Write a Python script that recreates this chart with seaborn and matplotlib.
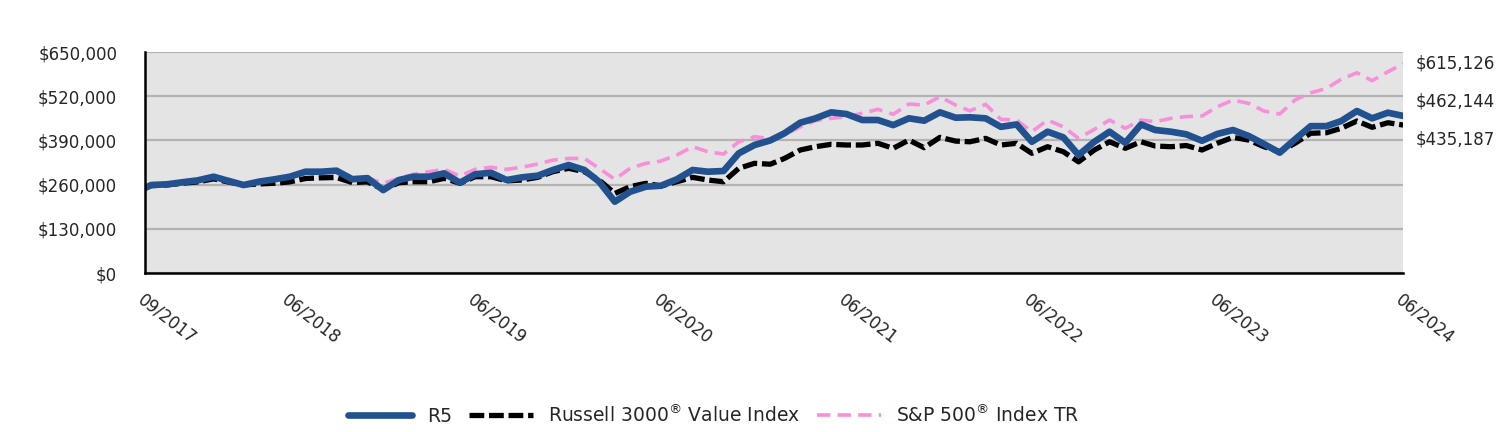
import matplotlib
matplotlib.use('Agg')
from matplotlib import pyplot as plt
import matplotlib.dates as mdates
import pandas as pd
import seaborn as sns

# first point is the start of the fund, then month ends
start = pd.to_datetime(['2017-09-18'])
month_ends = pd.date_range('2017-09-30', '2024-06-30', freq=pd.offsets.MonthEnd())
dates = start.append(month_ends)

r5 = [250000,
      258800, 260900, 266800, 272600, 283300, 271500, 258800, 268600, 275600, 283300,
      298000, 298000, 301000, 276000, 279000, 244000, 273500, 283300, 283300, 293200,
      265600, 290300, 295000, 273500, 281400, 286200, 303000, 317600, 303000, 268600,
      209800, 239000, 253900, 256800, 275600, 303000, 298000, 300000, 352000, 376500,
      390000, 411000, 442000, 455000, 472600, 467600, 450000, 450000, 435000, 455000,
      448000, 472600, 456800, 458000, 455000, 430000, 437000, 386000, 415600, 399000,
      347000, 386000, 415600, 383000, 437000, 420600, 415600, 408000, 389000, 409000,
      420600, 403000, 379400, 354000, 393000, 432000, 432000, 447000, 476500, 455000,
      471500, 462144]

russell = [250000,
           257000, 259000, 264000, 268000, 277000, 268000, 259000, 262000, 264000, 268000,
           278000, 280000, 281000, 266000, 268000, 246000, 265600, 268500, 268500, 278500,
           263800, 283300, 283300, 271000, 273500, 281400, 298000, 308000, 298000, 273500,
           234000, 253900, 263800, 256000, 268500, 281400, 273500, 268500, 308000, 322600,
           320000, 337000, 361800, 371500, 378500, 376500, 376500, 381500, 366800, 391000,
           368500, 399000, 388000, 386000, 396000, 376500, 381500, 352000, 371500, 356800,
           327000, 361800, 386000, 366800, 386000, 373500, 371500, 375000, 361800, 381500,
           399000, 391000, 371500, 356800, 381500, 411000, 412600, 425600, 447000, 428500,
           442000, 435187]

sp500 = [250000,
         258000, 261000, 267000, 273000, 286000, 276000, 262000, 268000, 275000, 283000,
         296000, 296000, 299000, 277000, 280000, 264000, 278500, 290000, 298000, 305000,
         285000, 305000, 311000, 305000, 311000, 320600, 332000, 337000, 337000, 308000,
         275600, 308000, 322600, 329400, 347000, 371500, 356800, 350000, 386000, 401000,
         395000, 406000, 430000, 448000, 455000, 459700, 469700, 481500, 466800, 497000,
         494000, 518500, 494000, 477000, 496000, 452000, 450000, 415600, 450000, 430000,
         396000, 422600, 450000, 425600, 450000, 445000, 455000, 460000, 461800, 489000,
         508800, 499000, 476500, 467600, 508800, 530000, 543000, 569700, 589000, 565600,
         592000, 615126]

tick_dates = pd.to_datetime(['2017-09-18', '2018-06-30', '2019-06-30', '2020-06-30',
                             '2021-06-30', '2022-06-30', '2023-06-30', '2024-06-30'])
y_ticks = [0, 130000, 260000, 390000, 520000, 650000]

df = pd.DataFrame({'date': dates, 'R5': r5, 'Russell': russell, 'SP500': sp500})

sns.set_style('white')
plt.rcParams['font.family'] = ['DejaVu Sans']

fig, ax = plt.subplots(figsize=(15.12, 4.32), dpi=100)
fig.subplots_adjust(left=0.0959, right=0.928, top=0.8796, bottom=0.368)
ax.set_facecolor('#e4e4e4')

sns.lineplot(data=df, x='date', y='SP500', color='#f78fd9', linewidth=2.6,
             linestyle=(0, (3.7, 2.0)), label='S&P 500$^{\u00ae}$ Index TR', ax=ax)
sns.lineplot(data=df, x='date', y='Russell', color='black', linewidth=3.8,
             linestyle=(0, (2.8, 0.9)), label='Russell 3000$^{\u00ae}$ Value Index', ax=ax)
sns.lineplot(data=df, x='date', y='R5', color='#22518f', linewidth=4.8,
             label='R5', ax=ax)

ax.set_xlim(dates[0], dates[-1])
ax.set_ylim(0, 650000)
ax.set_yticks(y_ticks)
ax.set_yticklabels([f'${v:,.0f}' for v in y_ticks], fontsize=12)
ax.set_xticks(tick_dates)
ax.xaxis.set_major_formatter(mdates.DateFormatter('%m/%Y'))
plt.setp(ax.get_xticklabels(), rotation=-38, ha='left', va='top',
         rotation_mode='anchor', fontsize=12)
ax.tick_params(axis='x', length=7, width=1.5, color='black', pad=6)
ax.tick_params(axis='y', length=0, pad=20)
ax.set_xlabel('')
ax.set_ylabel('')

ax.yaxis.grid(True, color='#b3b3b3', linewidth=1.6)
ax.set_axisbelow(True)
for side in ['top', 'right']:
    ax.spines[side].set_visible(False)
for side in ['left', 'bottom']:
    ax.spines[side].set_color('black')
    ax.spines[side].set_linewidth(1.8)

# ending values at the right
ends = [(sp500[-1], 0.854), (r5[-1], 0.766), (russell[-1], 0.678)]
for val, ypos in ends:
    fig.text(0.936, ypos, f'${val:,.0f}', fontsize=12, va='center', ha='left')

handles, labels = ax.get_legend_handles_labels()
ax.get_legend().remove()
order = [2, 1, 0]
fig.legend([handles[i] for i in order], [labels[i] for i in order],
           loc='center', bbox_to_anchor=(0.472, 0.04), ncol=3, frameon=False,
           fontsize=13.5, handlelength=3.4, handletextpad=0.8, columnspacing=0.9)

plt.savefig('out.png', dpi=100)
